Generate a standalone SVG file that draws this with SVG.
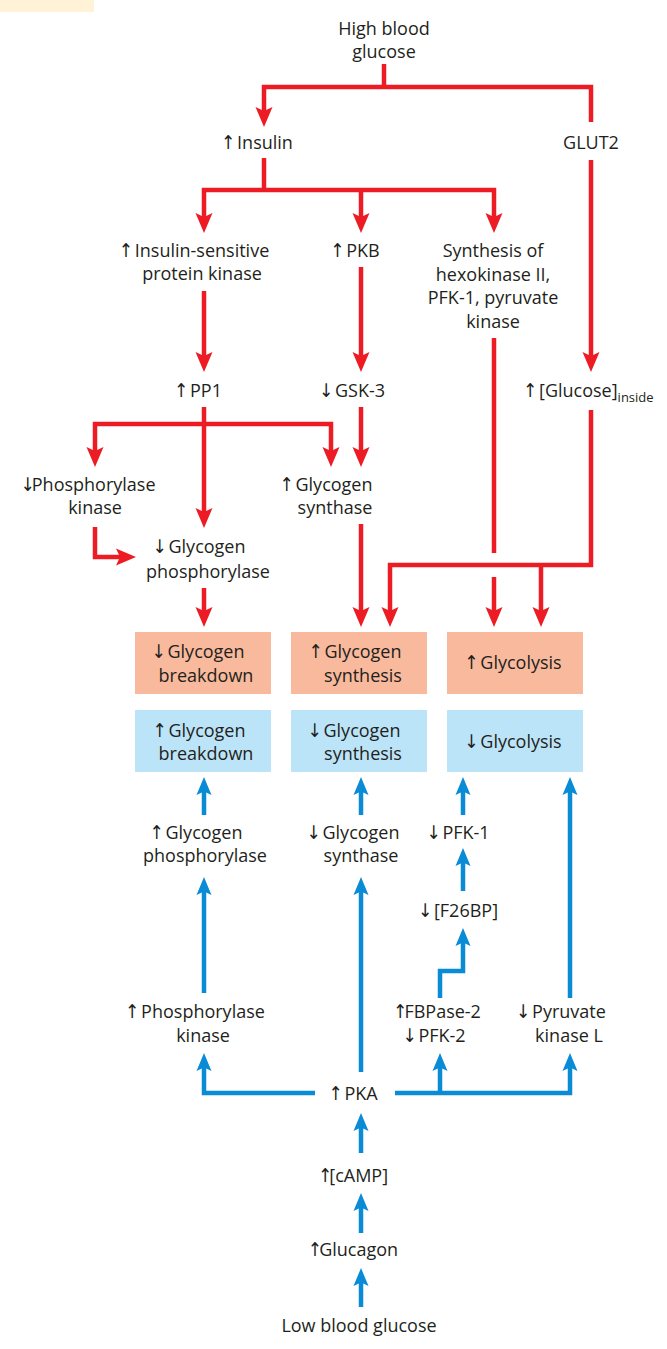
<svg xmlns="http://www.w3.org/2000/svg" width="667" height="1349" viewBox="0 0 667 1349">
<style>
text{font-family:"Open Sans","Liberation Sans","DejaVu Sans",sans-serif;font-size:18px;fill:#231F20;text-anchor:middle}
.a{font-family:"DejaVu Sans Condensed","DejaVu Sans",sans-serif;font-size:19px;letter-spacing:-3px}
.s{text-anchor:start}
.r{fill:none;stroke:#ED1C24;stroke-width:4.5;stroke-linejoin:miter}
.b{fill:none;stroke:#0A8BD6;stroke-width:4.5;stroke-linejoin:miter}
.ra{marker-end:url(#rh)}
.ba{marker-end:url(#bh)}
.rab{marker-start:url(#rh);marker-end:url(#rh)}
.sal{fill:#F9B99C}
.lb{fill:#BCE4F8}
</style>
<defs>
<marker id="rh" viewBox="0 -9 20 18" refX="8" refY="0" markerWidth="20" markerHeight="18" markerUnits="userSpaceOnUse" orient="auto-start-reverse"><path d="M0,-8.5 L20,0 L0,8.5 L4,0 Z" fill="#ED1C24"/></marker>
<marker id="bh" viewBox="0 -8 18 16" refX="7" refY="0" markerWidth="18" markerHeight="16" markerUnits="userSpaceOnUse" orient="auto-start-reverse"><path d="M0,-7.5 L18,0 L0,7.5 L3.5,0 Z" fill="#0A8BD6"/></marker>
</defs>
<rect x="0" y="0" width="94" height="12" fill="#FFF2D6"/>
<g id="connectors">
<path class="r" d="M384,64 V87"/>
<path class="r ra" d="M591,122 V87 H264 V115"/>
<path class="r" d="M264,158 V190"/>
<path class="r rab" d="M204,221 V190 H494 V221"/>
<path class="r ra" d="M361,190 V221"/>
<path class="r ra" d="M591,160 V360"/>
<path class="r ra" d="M204,291 V360"/>
<path class="r ra" d="M361,267 V360"/>
<path class="r" d="M494,338 V553"/>
<path class="r ra" d="M494,577 V615"/>
<path class="r ra" d="M204,407 V516"/>
<path class="r rab" d="M95,455 V424 H331 V455"/>
<path class="r ra" d="M361,407 V455"/>
<path class="r ra" d="M95,527 V557 H124"/>
<path class="r ra" d="M204,588 V615"/>
<path class="r ra" d="M361,524 V615"/>
<path class="r ra" d="M591,410 V565 H390 V615"/>
<path class="r ra" d="M541,565 V615"/>
<path class="b ba" d="M204,815 V788"/>
<path class="b ba" d="M361,815 V788"/>
<path class="b ba" d="M463,815 V788"/>
<path class="b ba" d="M570,998 V788"/>
<path class="b ba" d="M463,891 V859"/>
<path class="b ba" d="M440,998 V971 H463 V939"/>
<path class="b ba" d="M204,993 V888"/>
<path class="b ba" d="M361,1072 V888"/>
<path class="b ba" d="M315,1093 H204 V1064"/>
<path class="b ba" d="M395,1093 H570 V1064"/>
<path class="b ba" d="M440,1093 V1064"/>
<path class="b ba" d="M361,1153 V1124"/>
<path class="b ba" d="M361,1233 V1204"/>
<path class="b ba" d="M361,1307 V1279"/>
</g>
<g id="high-blood-glucose"><text x="384" y="35">High blood</text><text x="384" y="58">glucose</text></g>
<g id="insulin"><text x="257" y="149"><tspan class="a">↑</tspan> Insulin</text></g>
<g id="glut2"><text x="591" y="149">GLUT2</text></g>
<g id="insulin-sensitive-kinase"><text x="194" y="257"><tspan class="a">↑</tspan> Insulin-sensitive</text><text x="202" y="280">protein kinase</text></g>
<g id="pkb"><text x="355" y="257"><tspan class="a">↑</tspan> PKB</text></g>
<g id="synthesis-enzymes"><text x="493" y="257">Synthesis of</text><text x="493" y="281">hexokinase II,</text><text x="493" y="304">PFK-1, pyruvate</text><text x="493" y="328">kinase</text></g>
<g id="pp1"><text x="198" y="397"><tspan class="a">↑</tspan> PP1</text></g>
<g id="gsk3"><text x="352" y="397"><tspan class="a">↓</tspan> GSK-3</text></g>
<g id="glucose-inside"><text class="s" x="523" y="397"><tspan class="a">↑</tspan> [Glucose]<tspan font-size="13" dy="5">inside</tspan></text></g>
<g id="phosphorylase-kinase-down"><text x="88" y="491"><tspan class="a">↓</tspan>Phosphorylase</text><text x="95" y="514">kinase</text></g>
<g id="glycogen-synthase-up"><text x="326" y="491"><tspan class="a">↑</tspan> Glycogen</text><text x="335" y="514">synthase</text></g>
<g id="glycogen-phosphorylase-down"><text x="199" y="553"><tspan class="a">↓</tspan> Glycogen</text><text x="208" y="578">phosphorylase</text></g>
<g id="box-breakdown-down"><rect class="sal" x="135" y="632" width="136" height="62"/><text x="198" y="658"><tspan class="a">↓</tspan> Glycogen</text><text x="206" y="682">breakdown</text></g>
<g id="box-synthesis-up"><rect class="sal" x="291" y="632" width="136" height="62"/><text x="355" y="658"><tspan class="a">↑</tspan> Glycogen</text><text x="363" y="682">synthesis</text></g>
<g id="box-glycolysis-up"><rect class="sal" x="447" y="632" width="136" height="62"/><text x="513" y="669"><tspan class="a">↑</tspan> Glycolysis</text></g>
<g id="box-breakdown-up"><rect class="lb" x="135" y="710" width="136" height="62"/><text x="199" y="737"><tspan class="a">↑</tspan> Glycogen</text><text x="206" y="760">breakdown</text></g>
<g id="box-synthesis-down"><rect class="lb" x="291" y="710" width="136" height="62"/><text x="354" y="737"><tspan class="a">↓</tspan> Glycogen</text><text x="363" y="760">synthesis</text></g>
<g id="box-glycolysis-down"><rect class="lb" x="447" y="710" width="136" height="62"/><text x="513" y="748"><tspan class="a">↓</tspan> Glycolysis</text></g>
<g id="glycogen-phosphorylase-up"><text x="196" y="839"><tspan class="a">↑</tspan> Glycogen</text><text x="205" y="862">phosphorylase</text></g>
<g id="glycogen-synthase-down"><text x="353" y="839"><tspan class="a">↓</tspan> Glycogen</text><text x="361" y="862">synthase</text></g>
<g id="pfk1"><text x="458" y="839"><tspan class="a">↓</tspan> PFK-1</text></g>
<g id="f26bp"><text x="458" y="917"><tspan class="a">↓</tspan> [F26BP]</text></g>
<g id="phosphorylase-kinase-up"><text x="195" y="1018"><tspan class="a">↑</tspan> Phosphorylase</text><text x="203" y="1042">kinase</text></g>
<g id="fbpase2-pfk2"><text x="437" y="1018"><tspan class="a">↑</tspan>FBPase-2</text><text x="434" y="1042"><tspan class="a">↓</tspan> PFK-2</text></g>
<g id="pyruvate-kinase-l"><text x="561" y="1018"><tspan class="a">↓</tspan> Pyruvate</text><text x="569" y="1042">kinase L</text></g>
<g id="pka"><text x="353" y="1100"><tspan class="a">↑</tspan> PKA</text></g>
<g id="camp"><text x="353" y="1182"><tspan class="a">↑</tspan>[cAMP]</text></g>
<g id="glucagon"><text x="353" y="1256"><tspan class="a">↑</tspan>Glucagon</text></g>
<g id="low-blood-glucose"><text x="359" y="1332">Low blood glucose</text></g>
</svg>
